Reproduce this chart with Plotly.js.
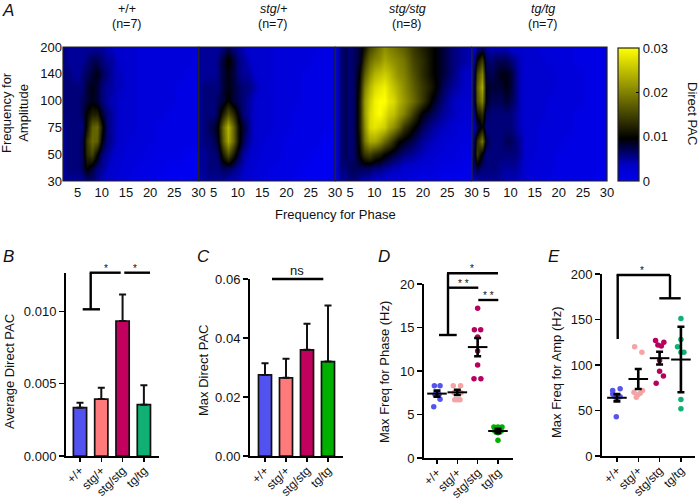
<!DOCTYPE html>
<html><head><meta charset="utf-8">
<script src="https://cdn.plot.ly/plotly-3.0.1.min.js"></script>
<style>html,body{margin:0;padding:0;background:#fff}#g{width:700px;height:500px}</style>
</head><body><div id="g"></div>
<script>
// ---- data ----
const genotypes = ['+/+','stg/+','stg/stg','tg/tg'];
const phaseFreq = [2,3,4,5,6,7,8,9,10,11,12,13,14,15,16,18,20,22,24,26,28,30];
const ampIndex = [0,0.5,1,1.5,2,2.5,3,3.5,4,4.5,5];
const ampTicks = ['30','50','75','100','140','200'];
const phaseTicks = [5,10,15,20,25,30];
// PAC maps in thousandths; rows run from low to high amplitude frequency
const pacWT = [
[5,5,5,5,5,6,6,5,4,3,3,2,2,2,1,1,1,0,0,0,0,0],
[5,6,6,6,7,10,8,6,5,4,3,3,2,2,2,1,1,1,0,0,0,0],
[5,6,6,6,7,13,15,10,6,5,4,3,3,2,2,2,1,1,1,1,0,0],
[5,6,6,6,7,14,18,17,9,6,5,4,3,3,2,2,2,1,1,1,1,1],
[5,6,6,6,6,11,17,18,11,6,5,4,3,3,3,2,2,1,1,1,1,1],
[6,6,6,6,7,10,12,12,8,6,5,4,3,3,3,2,2,2,1,1,1,1],
[6,6,6,6,7,8,9,8,6,5,4,4,3,3,3,2,2,2,2,1,1,1],
[6,6,6,6,6,8,9,8,6,5,5,4,4,3,3,2,2,2,2,1,1,1],
[6,6,5,5,6,7,8,9,7,6,5,4,4,3,3,2,2,2,2,2,1,1],
[6,5,5,5,5,6,7,7,6,5,5,4,3,3,3,2,2,2,2,2,2,1],
[6,5,5,5,5,5,5,5,5,4,4,3,3,3,3,2,2,2,2,2,2,2]];
const pacStgHet = [
[4,5,5,5,5,5,4,4,4,3,3,2,2,2,1,1,1,0,0,0,0,0],
[5,5,6,6,6,7,7,6,5,4,3,3,2,2,2,1,1,1,0,0,0,0],
[5,5,6,6,7,12,16,12,8,5,4,3,3,2,2,2,1,1,1,0,0,0],
[5,6,6,7,9,17,23,18,11,7,5,4,3,3,2,2,1,1,1,1,0,0],
[5,6,7,8,10,18,24,18,11,8,6,4,3,3,3,2,2,1,1,1,1,0],
[5,6,6,6,8,12,16,13,9,6,5,4,3,3,3,2,2,1,1,1,1,1],
[5,6,6,6,7,8,10,8,7,6,5,4,3,3,3,2,2,2,1,1,1,1],
[5,6,6,6,6,8,9,8,7,6,6,5,4,3,3,2,2,2,1,1,1,1],
[5,5,5,5,6,8,9,8,6,5,5,4,3,3,3,2,2,2,1,1,1,1],
[5,5,5,5,6,8,10,8,6,5,4,3,3,3,3,2,2,2,2,1,1,1],
[5,5,5,5,5,6,7,6,5,4,3,3,3,3,3,2,2,2,2,2,1,1]];
const pacStgHom = [
[2,5,5,6,6,5,4,4,3,3,3,2,2,2,2,1,1,1,0,0,0,0],
[2,6,6,7,7,7,7,7,6,6,5,5,4,4,3,3,2,2,1,1,1,0],
[2,6,7,6,7,10,14,15,13,12,10,9,8,7,6,5,4,3,2,2,1,1],
[2,6,7,6,7,11,19,23,23,21,18,16,13,10,9,7,5,4,3,2,2,1],
[2,6,7,6,7,12,21,27,28,27,26,23,21,18,14,10,7,5,4,3,2,2],
[2,6,7,6,7,12,22,27,29,30,28,26,25,22,20,14,9,7,5,4,3,2],
[2,6,7,6,7,12,22,26,29,30,30,28,27,24,22,18,14,9,6,4,3,3],
[2,6,7,6,7,11,20,24,27,28,29,27,25,23,21,17,14,11,7,5,4,3],
[2,6,7,6,7,10,17,21,24,25,26,25,23,21,20,16,13,10,8,6,4,3],
[2,6,7,6,7,8,14,18,20,21,23,22,21,20,19,15,13,10,8,6,5,4],
[2,6,7,6,7,8,11,15,17,19,21,20,19,18,17,14,12,10,8,6,5,4]];
const pacTg = [
[3,4,5,5,5,5,5,4,4,4,4,3,2,2,2,1,1,1,1,1,0,0],
[5,8,6,6,6,6,5,5,5,5,4,3,2,2,2,2,1,1,1,1,1,0],
[4,14,9,6,6,6,6,6,6,6,5,3,3,2,2,2,1,1,1,1,1,1],
[3,13,19,8,6,6,6,7,7,6,5,3,3,3,2,2,2,1,1,1,1,1],
[2,7,10,6,6,6,6,6,6,5,4,3,3,3,2,2,2,2,1,1,1,1],
[2,11,13,7,6,6,6,6,6,5,4,3,3,3,3,2,2,2,1,1,1,1],
[2,16,20,9,7,7,7,8,7,6,4,3,3,3,3,2,2,2,2,1,1,1],
[2,17,23,9,8,8,8,9,8,6,4,3,3,3,3,3,2,2,2,1,1,1],
[2,15,20,8,7,8,9,9,8,6,4,3,3,3,3,3,2,2,2,1,1,1],
[2,10,14,7,6,7,7,7,6,5,4,3,3,3,3,2,2,2,1,1,1,1],
[2,5,6,5,4,4,4,4,3,3,3,3,3,3,2,2,2,2,1,1,1,1]];
const avgPac = [0.00334,0.00394,0.00934,0.00355];
const avgPacTop = [0.00369,0.00472,0.01118,0.00489];
const maxPac = [0.0275,0.0265,0.036,0.032];
const maxPacTop = [0.0314,0.033,0.0448,0.051];
const phasePts = [[8.3,8.3,7.3,7.3,7.3,6.75,5.9],[8.3,8.3,7.5,7.5,6.7,6.7,6.7],[17.2,14.75,14.75,13.9,12.3,10.7,9.1,9.1],[3.55,3.55,3.55,3.1,3.1,2.9,2.05]];
const phaseJit = [[-0.13,0.15,-0.1,0.1,0,0.15,-0.16],[-0.2,0.16,-0.16,0.18,-0.13,0,0.13],[0,-0.16,0.15,0,0,0,-0.18,0.16],[-0.2,0,0.2,-0.16,0.16,0,0]];
const phaseMean = [7.4,7.55,12.75,3.1];
const phaseSem = [0.35,0.3,1.05,0.25];
const ampPts = [[43,72,74,68,65,63,65],[120,114,72,69,70,67,64.5],[127,125,122,121,105,93,88,80],[151,128,120,114,114,62,52]];
const ampJit = [[-0.03,-0.2,0.15,-0.2,0.15,0,-0.1],[-0.17,0.17,0.2,0.09,-0.2,-0.03,-0.09],[-0.19,0.2,-0.08,0.08,0,0,0.18,-0.16],[0,0,-0.16,0.14,0,0,0]];
const ampMean = [64,84.6,107.5,106];
const ampSem = [4,11,7,36];
const colBar = ['#5252f0','#ff7a7a','#c2005e','#10b074'];
const colBarC = ['#5252f0','#ff7a7a','#c2005e','#00b000'];
const colD = ['#5555ee','#f5a3a3','#b8005f','#00b000'];
const colE = ['#5555ee','#f5a3a3','#b8005f','#10b074'];

// ---- layout helpers ----
const FONT = 'Liberation Sans, Arial, sans-serif';
const W=700,H=500,FS=13;
const fx = p=>p/W, fy = p=>1-p/H;
const ann = (t,x,y,o={}) => Object.assign({text:t,x:fx(x),y:fy(y),xref:'paper',yref:'paper',showarrow:false,xanchor:'center',yanchor:'middle',font:{family:FONT,size:FS,color:'#111'}},o);
const seg = (x0,y0,x1,y1,w=2.4,c='#000') => ({type:'line',xref:'paper',yref:'paper',x0:fx(x0),y0:fy(y0),x1:fx(x1),y1:fy(y1),line:{color:c,width:w}});
const tickFont = {family:FONT,size:FS,color:'#111'};

const traces=[], layout={
  width:W,height:H,margin:{l:0,r:0,t:0,b:0},paper_bgcolor:'#fff',plot_bgcolor:'#fff',showlegend:false,
  font:{family:FONT,color:'#111'},
  coloraxis:{cmin:0,cmax:30,
    colorscale:[[0,'#0000f0'],[0.12,'#0000c8'],[0.32,'#000000'],[1,'#ffff00']],
    colorbar:{thickness:21,thicknessmode:'pixels',len:133,lenmode:'pixels',x:fx(618),xanchor:'left',xpad:0,y:fy(181),yanchor:'bottom',ypad:0,
      tickvals:[0,10,20,30],ticktext:['0','0.01','0.02','0.03'],ticks:'inside',ticklen:3,tickwidth:1,tickcolor:'#000',
      outlinecolor:'#222',outlinewidth:1.2,borderwidth:0,tickfont:tickFont}},
  annotations:[],shapes:[]};

// ---- heatmaps ----
const maps=[pacWT,pacStgHet,pacStgHom,pacTg];
const mapPx=[[63,198.5],[199,335],[335.5,471.5],[472,607]];
maps.forEach((z,i)=>{
  const s=i?String(i+1):'';
  traces.push({type:'heatmap',x:phaseFreq,y:ampIndex,z:z,coloraxis:'coloraxis',zsmooth:'best',xaxis:'x'+s,yaxis:'y'+s,hoverinfo:'skip'});
  layout['xaxis'+s]={domain:[fx(mapPx[i][0]),fx(mapPx[i][1])],range:[2,30],anchor:'y'+s,tickvals:phaseTicks,ticks:'',tickfont:tickFont,showgrid:false,zeroline:false,showline:false,ticklabelstandoff:2};
  layout['yaxis'+s]={domain:[fy(181),fy(47)],range:[0,5],anchor:'x'+s,tickvals:[0,1,2,3,4,5],ticktext:ampTicks,ticks:'',tickfont:tickFont,showgrid:false,zeroline:false,showline:false,showticklabels:i===0};
  layout.shapes.push({type:'rect',xref:'paper',yref:'paper',x0:fx(mapPx[i][0]),x1:fx(mapPx[i][1]),y0:fy(181),y1:fy(47),line:{color:'#222',width:1.2},fillcolor:'rgba(0,0,0,0)'});
});
layout.shapes.push(seg(618,92,621,92,1),seg(636,92,639,92,1));
const heads=[['+/+',127],['<i>stg</i>/+',273],['<i>stg/stg</i>',407],['<i>tg/tg</i>',543]];
const ns=['(n=7)','(n=7)','(n=8)','(n=7)'];
heads.forEach((h,i)=>{layout.annotations.push(ann(h[0],h[1],8.5,{font:{family:FONT,size:12.5,color:'#111'}}),ann(ns[i],h[1],24,{font:{family:FONT,size:12.5,color:'#111'}}));});
const LET={family:FONT,size:17,color:'#111'};
layout.annotations.push(
  ann('Frequency for<br>Amplitude',15,113,{textangle:-90}),
  ann('Frequency for Phase',335,215),
  ann('Direct PAC',692,113,{textangle:90}),
  ann('<i>A</i>',8,10,{font:LET}),
  ann('<i>B</i>',8,256,{font:LET}),
  ann('<i>C</i>',203,256,{font:LET}),
  ann('<i>D</i>',384,256,{font:LET}),
  ann('<i>E</i>',554,256,{font:LET}));

// ---- lower axes ----
function lowerAxes(n,xpx,ypx,xr,yr,tv,tt){
  layout['xaxis'+n]={domain:[fx(xpx[0]),fx(xpx[1])],range:xr,anchor:'y'+n,tickvals:[0,1,2,3],ticktext:genotypes,tickangle:-45,ticks:'outside',ticklen:4,tickwidth:1.5,tickcolor:'#000',tickfont:{family:FONT,size:12,color:'#111'},showline:true,linecolor:'#000',linewidth:2,showgrid:false,zeroline:false,ticklabelstandoff:-3};
  layout['yaxis'+n]={domain:[fy(ypx[1]),fy(ypx[0])],range:yr,anchor:'x'+n,tickvals:tv,ticktext:tt,ticks:'outside',ticklen:5,tickwidth:1.5,tickcolor:'#000',tickfont:tickFont,showline:true,linecolor:'#000',linewidth:2,showgrid:false,zeroline:false};
}
function bars(n,vals,tops,cols){
  traces.push({type:'bar',x:[0,1,2,3],y:vals,width:0.62,xaxis:'x'+n,yaxis:'y'+n,marker:{color:cols,line:{color:'#111',width:1.7}},
    error_y:{type:'data',symmetric:false,array:tops.map((t,i)=>t-vals[i]),arrayminus:[0,0,0,0],color:'#111',thickness:2,width:3.5},hoverinfo:'skip'});
}
function dots(n,pts,jit,mean,sem,cols,mw,cw){
  pts.forEach((p,i)=>traces.push({type:'scatter',mode:'markers',x:p.map((_,k)=>i+jit[i][k]),y:p,xaxis:'x'+n,yaxis:'y'+n,marker:{color:cols[i],size:5.5},hoverinfo:'skip'}));
  traces.push({type:'scatter',mode:'markers',x:[0,1,2,3],y:mean,xaxis:'x'+n,yaxis:'y'+n,
    marker:{symbol:'line-ew',size:mw,color:'#000',line:{color:'#000',width:2}},
    error_y:{type:'data',array:sem,color:'#000',thickness:2.6,width:cw},hoverinfo:'skip'});
}
lowerAxes(5,[66,159],[273,456],[-0.657,3.71],[0,0.01266],[0,0.005,0.01],['0.000','0.005','0.010']);
lowerAxes(6,[250,343],[279,456],[-0.714,3.714],[0,0.06],[0,0.02,0.04,0.06],['0.00','0.02','0.04','0.06']);
lowerAxes(7,[424,513],[284,458],[-0.64,3.74],[0,20],[0,5,10,15,20],['0','5','10','15','20']);
lowerAxes(8,[602,695],[274,456],[-0.7,3.66],[0,200],[0,50,100,150,200],['0','50','100','150','200']);
bars(5,avgPac,avgPacTop,colBar);
bars(6,maxPac,maxPacTop,colBarC);
dots(7,phasePts,phaseJit,phaseMean,phaseSem,colD,14,3.5);
dots(8,ampPts,ampJit,ampMean,ampSem,colE,14,3.5);

const STAR={family:FONT,size:10,color:'#111'};
layout.annotations.push(
  ann('Average Direct PAC',9,372,{textangle:-90}),
  ann('Max Direct PAC',203,370,{textangle:-90}),
  ann('Max Freq for Phase (Hz)',384,372,{textangle:-90}),
  ann('Max Freq for Amp (Hz)',556,373,{textangle:-90}),
  ann('ns',297,270),
  ann('*',106,268,{font:STAR}),
  ann('*',135,268,{font:STAR}),
  ann('*',472,268,{font:STAR}),
  ann('* *',464,283,{font:STAR}),
  ann('* *',488,295,{font:STAR}),
  ann('*',642,270,{font:STAR}));
layout.shapes.push(
  seg(82.7,309.3,100,309.3),seg(90.7,309.3,90.7,272.7),seg(89.7,272.7,120.7,272.7),seg(124.3,272.7,150,272.7),
  seg(272,279,323.3,279),
  seg(439,335,456.7,335),seg(448,335,448,273.3),seg(447,273.3,498,273.3),seg(448,287.7,478.3,287.7),seg(478.3,300,498.3,300),
  seg(617.7,339,617.7,274.5),seg(616.7,275,670,275),seg(670,275,670,298.3),seg(659.3,298.3,680.7,298.3));

Plotly.newPlot('g',traces,layout,{displayModeBar:false,staticPlot:true});
</script></body></html>
